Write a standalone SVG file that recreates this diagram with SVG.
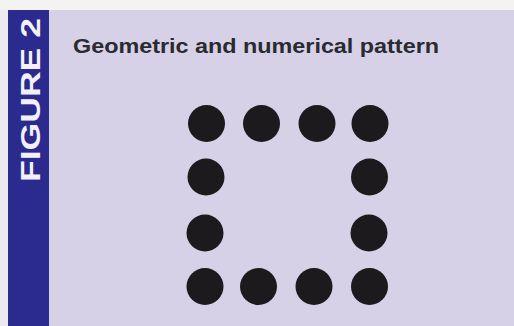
<svg xmlns="http://www.w3.org/2000/svg" width="514" height="326" viewBox="0 0 514 326">
<style>
.dot{fill:#1c1a1d}
.title{font-family:"Liberation Sans",Arial,sans-serif;font-weight:bold;font-size:20px;fill:#2a2a30}
.fig{font-family:"Liberation Sans",Arial,sans-serif;font-weight:bold;font-size:27px;fill:#f2f0fa}
</style>
<rect x="0" y="0" width="514" height="326" fill="#f4f2f3"/>
<rect x="0" y="10" width="514" height="316" fill="#d6d1e6"/>
<rect x="0" y="10" width="8" height="316" fill="#eceaf0"/>
<g id="figure-label">
<rect x="8" y="10" width="41" height="316" fill="#2b2a8e"/>
<text class="fig" transform="translate(40,182) rotate(-90)" textLength="164" lengthAdjust="spacingAndGlyphs">FIGURE 2</text>
</g>
<g id="title">
<text class="title" x="73" y="52.5" textLength="366" lengthAdjust="spacingAndGlyphs">Geometric and numerical pattern</text>
</g>
<g id="dots">
<circle class="dot" cx="206.5" cy="123.5" r="18.5"/>
<circle class="dot" cx="261.5" cy="123.5" r="18.5"/>
<circle class="dot" cx="317" cy="123.5" r="18.5"/>
<circle class="dot" cx="370" cy="123.5" r="18.5"/>
<circle class="dot" cx="206" cy="177" r="18.5"/>
<circle class="dot" cx="369.5" cy="177" r="18.5"/>
<circle class="dot" cx="205" cy="233" r="18.5"/>
<circle class="dot" cx="369" cy="233" r="18.5"/>
<circle class="dot" cx="205" cy="286.5" r="18.5"/>
<circle class="dot" cx="258.5" cy="286.5" r="18.5"/>
<circle class="dot" cx="314" cy="286.5" r="18.5"/>
<circle class="dot" cx="369.5" cy="286.5" r="18.5"/>
</g>
</svg>
